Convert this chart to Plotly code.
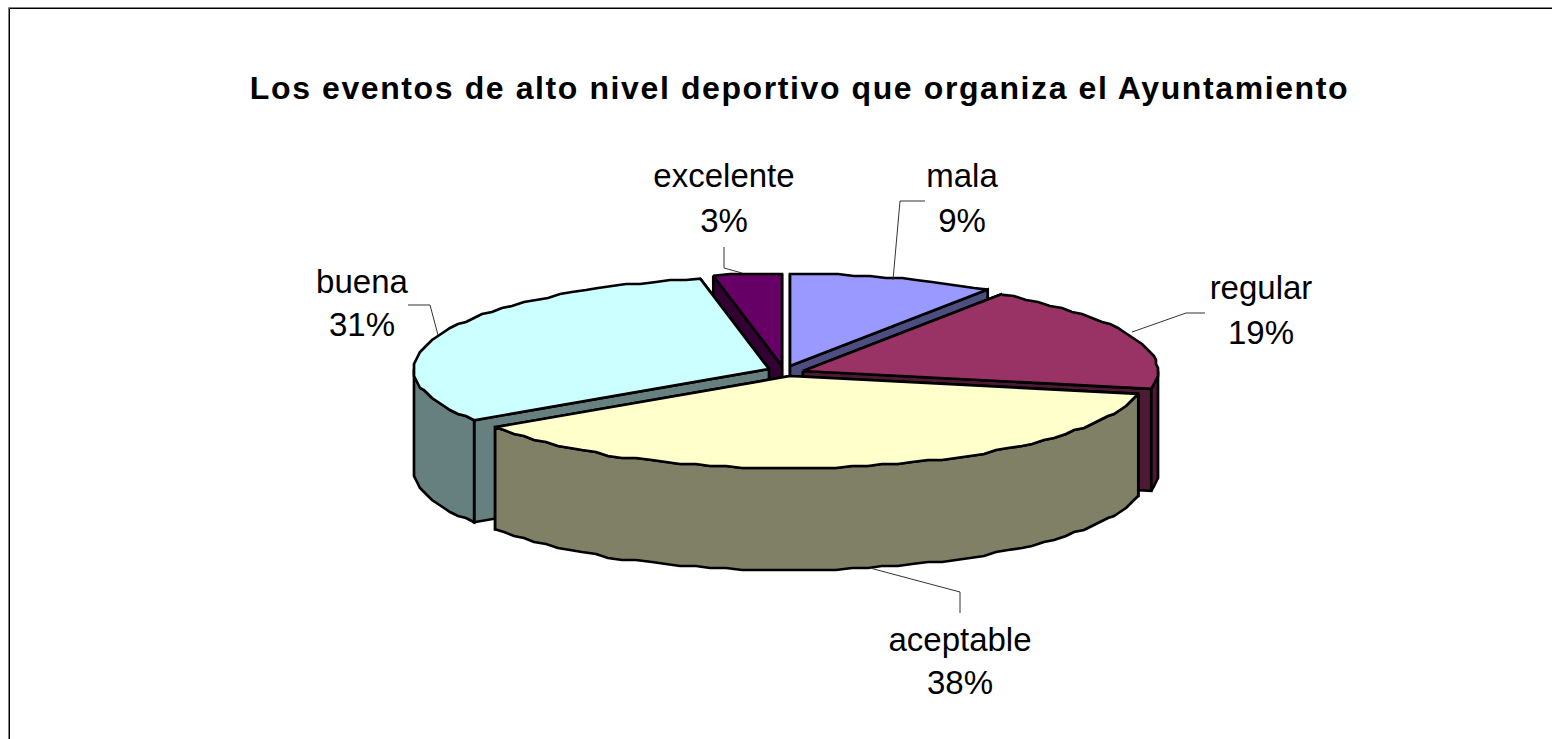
import numpy as np
import plotly.graph_objects as go

TITLE = "Los eventos de alto nivel deportivo que organiza el Ayuntamiento"
categories = ["mala", "regular", "aceptable", "buena", "excelente"]
values = [9.4, 18.7, 37.5, 31.3, 3.1]
top_colors = ["#9999FF", "#993366", "#FFFFCC", "#CCFFFF", "#660066"]
side_colors = ["#4D4D80", "#4D1A33", "#808066", "#668080", "#330033"]
apex_x = [790, 803, 790, 769, 782]
apex_y = [366, 371, 376, 369, 366]
paint_order = [0, 4, 3, 1, 2]
RX, RY, DEPTH = 355, 92, 102
SNAP = 2

label_x = [962, 1261, 960, 362, 724]
name_y = [179, 291, 643, 285, 179]
pct_y = [224, 336, 686, 328, 224]
leaders_x = [[893, 900, 925], [1132, 1186, 1205], [870, 960, 960], [438, 430, 408], [742, 724, 724]]
leaders_y = [[280, 201, 201], [332, 313, 313], [568, 592, 613], [335, 305, 305], [273, 268, 247]]

fig = go.Figure()


def poly(xs, ys, color):
    fig.add_trace(go.Scatter(
        x=list(xs) + [xs[0]], y=list(ys) + [ys[0]], mode="lines", fill="toself",
        fillcolor=color, line=dict(color="black", width=2.7, simplify=False),
        hoverinfo="skip", showlegend=False))


def arc(ax, ay, a0, a1):
    n = max(2, int((a1 - a0) / 2.5) + 1)
    t = np.linspace(a0, a1, n)
    x = ax + RX * np.sin(np.radians(t))
    y = ay - RY * np.cos(np.radians(t))
    inner = np.ones(n, bool)
    inner[[0, -1]] = False
    x[inner] = np.round(x[inner] / SNAP) * SNAP
    y[inner] = np.round(y[inner] / SNAP) * SNAP
    return x, y


ends = np.cumsum(values) / sum(values) * 360
starts = np.concatenate([[0], ends[:-1]])

for i in paint_order:
    ax, ay, a0, a1 = apex_x[i], apex_y[i], starts[i], ends[i]
    x, y = arc(ax, ay, a0, a1)
    faces = []
    for px, py in [(x[0], y[0]), (x[-1], y[-1])]:
        fx = [ax, px, px, ax]
        fy = [ay, py, py + DEPTH, ay + DEPTH]
        faces.append((np.mean(fy), fx, fy))
    w0, w1 = max(a0, 90), min(a1, 270)
    if w1 > w0:
        wx, wy = arc(ax, ay, w0, w1)
        fx = list(wx) + list(wx[::-1])
        fy = list(wy) + list((wy + DEPTH)[::-1])
        faces.append((np.mean(fy) + 1000, fx, fy))
    for _, fx, fy in sorted(faces, key=lambda f: f[0]):
        poly(fx, fy, side_colors[i])
    poly([ax] + list(x), [ay] + list(y), top_colors[i])

for lx, ly in zip(leaders_x, leaders_y):
    fig.add_trace(go.Scatter(x=lx, y=ly, mode="lines", line=dict(color="#333333", width=1),
                             hoverinfo="skip", showlegend=False))

font = dict(family="Liberation Sans, Arial, sans-serif", size=33, color="black")
fig.add_trace(go.Scatter(x=label_x, y=name_y, mode="text", text=categories, textfont=font,
                         textposition="middle center", hoverinfo="skip", showlegend=False))
fig.add_trace(go.Scatter(x=label_x, y=pct_y, mode="text", text=[f"{v:.0f}%" for v in values],
                         textfont=font, textposition="middle center", hoverinfo="skip", showlegend=False))
fig.add_trace(go.Scatter(x=[799.5], y=[91], mode="text", text=[f"<b>{TITLE}</b>"],
                         textfont=dict(family="Liberation Sans, Arial, sans-serif", size=32, color="black"),
                         textposition="middle center", hoverinfo="skip", showlegend=False))
fig.add_trace(go.Scatter(x=[8.5, 8.5, 1552], y=[739, 7.5, 7.5], mode="lines",
                         line=dict(color="#808080", width=1), hoverinfo="skip", showlegend=False))
fig.add_trace(go.Scatter(x=[9.5, 9.5, 1552], y=[739, 8.5, 8.5], mode="lines",
                         line=dict(color="black", width=1), hoverinfo="skip", showlegend=False))

fig.update_layout(
    width=1552, height=739, margin=dict(l=0, r=0, t=0, b=0),
    paper_bgcolor="white", plot_bgcolor="white",
    xaxis=dict(range=[0, 1552], visible=False, fixedrange=True),
    yaxis=dict(range=[739, 0], visible=False, fixedrange=True),
)
post = """
document.body.style.margin='0';
document.documentElement.style.overflow='hidden';
document.querySelectorAll('.textpoint text').forEach(function(t){
  if (t.textContent.indexOf('Ayuntamiento') >= 0) { t.style.letterSpacing = '1.6px'; }
});
"""
fig.write_html("out.html", config={"displayModeBar": False}, post_script=post)
